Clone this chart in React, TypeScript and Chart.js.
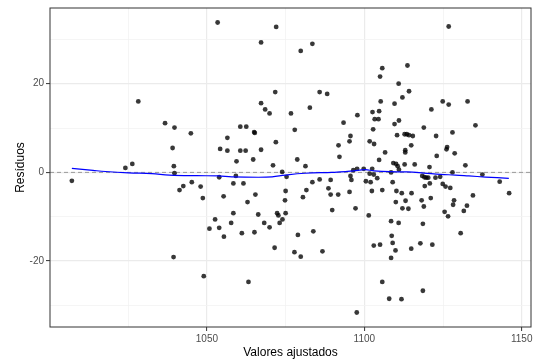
import React, { useEffect, useRef } from "react";
import { Chart, registerables } from "chart.js";
Chart.register(...registerables);

// Fitted values (x) and residuals (y)
const fitted = [
  1007.1, 1024.1, 1026.3, 1028.2, 1036.7, 1039.7, 1039.1, 1039.5, 1039.7, 1044.9,
  1041.3, 1042.5, 1045.2, 1048.0, 1048.7, 1050.8, 1039.4, 1049.0, 1053.4, 1072.0,
  1067.2, 1079.8, 1083.5, 1071.7, 1085.8, 1088.2, 1067.2, 1068.5, 1069.9, 1082.7,
  1076.7, 1093.4, 1060.6, 1062.5, 1065.0, 1065.2, 1056.5, 1077.9, 1071.9, 1054.2,
  1056.5, 1060.6, 1062.3, 1067.2, 1091.8, 1092.1, 1059.4, 1064.7, 1071.0, 1078.7,
  1081.3, 1073.9, 1053.9, 1059.2, 1075.3, 1058.4, 1061.6, 1055.3, 1065.4, 1062.9,
  1075.0, 1074.8, 1081.6, 1083.5, 1085.8, 1089.3, 1088.6, 1089.3, 1091.7, 1080.5,
  1089.8, 1052.6, 1058.4, 1066.3, 1072.3, 1072.7, 1075.0, 1074.0, 1073.1, 1053.9,
  1057.7, 1055.4, 1061.1, 1065.1, 1068.2, 1069.9, 1078.9, 1083.8, 1071.5, 1077.8,
  1079.8, 1086.7, 1063.2, 1105.7, 1113.7, 1105.0, 1110.9, 1114.2, 1112.1, 1105.2,
  1109.6, 1121.3, 1097.8, 1102.6, 1104.7, 1103.3, 1104.5, 1111.0, 1109.6, 1102.8,
  1118.9, 1095.6, 1095.3, 1101.7, 1103.1, 1110.4, 1112.8, 1113.5, 1114.2, 1115.4,
  1122.8, 1114.9, 1106.6, 1113.0, 1113.0, 1123.0, 1104.7, 1109.2, 1110.1, 1110.6,
  1112.8, 1116.0, 1120.7, 1096.5, 1097.7, 1099.8, 1102.5, 1101.7, 1103.0, 1104.1,
  1095.6, 1095.9, 1100.5, 1102.0, 1108.5, 1109.0, 1111.0, 1118.4, 1119.1, 1119.7,
  1120.3, 1122.6, 1124.1, 1120.8, 1119.2, 1095.3, 1102.4, 1105.7, 1110.2, 1111.9,
  1115.0, 1110.0, 1113.1, 1112.1, 1114.0, 1118.2, 1121.1, 1118.9, 1097.2, 1101.4,
  1108.5, 1110.9, 1118.6, 1108.7, 1109.0, 1103.0, 1105.0, 1109.9, 1114.9, 1117.8,
  1121.6, 1108.5, 1105.7, 1118.6, 1107.9, 1111.8, 1097.6, 1126.8, 1124.9, 1126.8,
  1132.8, 1135.3, 1128.0, 1126.3, 1126.1, 1128.7, 1132.1, 1128.0, 1137.5, 1124.9,
  1125.8, 1127.3, 1143.0, 1146.0, 1134.5, 1128.5, 1128.2, 1132.6, 1131.6, 1125.5,
  1126.6, 1130.6,
];
const residuals = [
  -1.9, 1.0, 1.9, 16.0, 11.1, 10.1, 5.5, 1.4, -0.2, 8.8,
  -4.0, -3.1, -2.2, -3.2, -5.8, -12.7, -19.1, -23.4, 33.8, 32.8,
  29.3, 27.4, 29.0, 18.1, 18.1, 17.7, 15.6, 14.2, 13.3, 14.6,
  13.3, 11.2, 10.3, 10.3, 9.1, 8.9, 7.8, 9.6, 6.8, 5.3,
  4.9, 4.9, 4.9, 5.1, 6.1, 3.5, 2.5, 2.9, 1.6, 2.9,
  1.4, 0.1, -1.1, -0.8, -1.0, -2.5, -2.5, -5.4, -5.0, -6.7,
  -4.2, -6.3, -4.0, -2.2, -1.6, -1.7, -3.6, -5.0, -5.0, -5.6,
  -8.5, -10.6, -9.2, -9.5, -9.2, -9.7, -9.2, -10.6, -11.4, -12.5,
  -11.4, -14.5, -13.7, -13.5, -11.4, -12.4, -14.1, -13.3, -17.0, -18.0,
  -19.0, -17.8, -24.7, 23.5, 24.1, 21.6, 20.0, 18.3, 16.9, 16.0,
  15.5, 14.2, 12.9, 13.6, 13.8, 12.0, 12.0, 11.7, 10.9, 9.7,
  10.1, 8.2, 7.0, 7.0, 6.4, 8.4, 8.6, 8.6, 8.4, 8.2,
  8.2, 6.1, 4.5, 5.0, 4.5, 3.7, 2.8, 2.1, 1.9, 1.4,
  1.8, 1.8, 1.2, 0.5, 0.8, 0.8, 0.8, -0.3, -0.5, -1.3,
  -0.8, -1.7, -2.0, -2.2, 0.0, -2.2, 0.6, -0.8, -1.1, -1.2,
  -1.2, -1.2, -1.0, -2.5, -3.1, -4.4, -4.2, -4.0, -4.2, -4.7,
  -4.7, -6.7, -6.4, -8.1, -8.2, -6.3, -5.8, -7.7, -8.1, -9.7,
  -11.0, -11.4, -11.6, -14.3, -15.9, -16.5, -16.3, -17.6, -17.2, -16.0,
  -16.3, -19.3, -24.7, -26.7, -28.5, -28.6, -31.6, 32.9, 16.0, 15.3,
  16.0, 10.6, 9.0, 5.7, 5.2, 4.3, 1.6, 0.0, -0.5, -2.6,
  -3.2, -3.5, -2.1, -4.7, -5.2, -6.3, -7.3, -7.5, -8.7, -8.9,
  -9.9, -13.7,
];

// Loess smooth curve
const smoothX = [1007.1, 1013.8, 1017.8, 1025.1, 1032.5, 1038.1, 1046.8, 1053.7, 1057.9, 1066.4,
  1070.7, 1074.9, 1081.2, 1089.7, 1094.0, 1096.6, 1100.3, 1103.0, 1108.3, 1113.6,
  1118.9, 1124.2, 1128.9, 1133.2, 1138.5, 1145.9];
const smoothY = [0.9, 0.45, 0.2, -0.1, -0.3, -0.6, -0.75, -0.8, -1.0, -1.1,
  -1.0, -0.6, -0.2, 0.0, 0.15, 0.35, 0.6, 0.35, 0.15, 0.1,
  -0.15, -0.45, -0.6, -0.8, -1.05, -1.35];

const xTicks = [1025, 1050, 1075, 1100, 1125, 1150];
const xLabels = [1050, 1100, 1150];
const yTicks = [-30, -20, -10, 0, 10, 20, 30];
const yLabels = [-20, 0, 20];
const refLine = 0;

const xTitle = "Valores ajustados";
const yTitle = "Resíduos";

const FONT = "'Liberation Sans', Arial, sans-serif";

function expand(arr: number[]) {
  const mn = Math.min(...arr);
  const mx = Math.max(...arr);
  const d = (mx - mn) * 0.05;
  return [mn - d, mx + d];
}

const panelPlugin = {
  id: "panelDecor",
  beforeDatasetsDraw(chart: any) {
    const { ctx, chartArea, scales } = chart;
    const y = scales.y.getPixelForValue(refLine);
    ctx.save();
    ctx.strokeStyle = "#999999";
    ctx.lineWidth = 1;
    ctx.setLineDash([4, 3]);
    ctx.beginPath();
    ctx.moveTo(chartArea.left, y);
    ctx.lineTo(chartArea.right, y);
    ctx.stroke();
    ctx.restore();
  },
  afterDraw(chart: any) {
    const { ctx, chartArea } = chart;
    ctx.save();
    ctx.strokeStyle = "#333333";
    ctx.lineWidth = 1;
    ctx.strokeRect(
      chartArea.left,
      chartArea.top,
      chartArea.right - chartArea.left,
      chartArea.bottom - chartArea.top
    );
    ctx.restore();
  },
};

export default function App() {
  const ref = useRef<HTMLCanvasElement | null>(null);
  useEffect(() => {
    if (!ref.current) return;
    const [xMin, xMax] = expand(fitted);
    const [yMin, yMax] = expand(residuals);
    const points = fitted.map((x, i) => ({ x, y: residuals[i] }));
    const smooth = smoothX.map((x, i) => ({ x, y: smoothY[i] }));

    const isMajorX = (v: number) => xLabels.includes(v);
    const isMajorY = (v: number) => yLabels.includes(v);

    const chart = new Chart(ref.current, {
      type: "scatter",
      data: {
        datasets: [
          {
            data: smooth,
            showLine: true,
            borderColor: "#0000FF",
            borderWidth: 1.2,
            pointRadius: 0,
            tension: 0.4,
            fill: false,
          } as any,
          {
            data: points,
            backgroundColor: "rgba(0,0,0,0.78)",
            borderWidth: 0,
            pointRadius: 2.4,
            pointHoverRadius: 2.4,
          },
        ],
      },
      options: {
        animation: false,
        responsive: false,
        events: [],
        layout: { padding: { left: 0, top: 7, right: 5, bottom: 0 } },
        plugins: {
          legend: { display: false },
          tooltip: { enabled: false },
        },
        scales: {
          x: {
            type: "linear",
            min: xMin,
            max: xMax,
            afterBuildTicks: (s: any) => {
              s.ticks = xTicks.map((v) => ({ value: v }));
            },
            afterFit: (s: any) => {
              s.height = 36;
            },
            border: { display: false },
            grid: {
              color: (c: any) => (c.tick && isMajorX(c.tick.value) ? "#EBEBEB" : "#F2F2F2"),
              lineWidth: (c: any) => (c.tick && isMajorX(c.tick.value) ? 1.2 : 0.8),
              tickColor: (c: any) => (c.tick && isMajorX(c.tick.value) ? "#333333" : "rgba(0,0,0,0)"),
              tickWidth: 1,
              tickLength: 4,
              drawTicks: true,
            },
            ticks: {
              autoSkip: false,
              maxRotation: 0,
              padding: 2,
              color: "#4D4D4D",
              font: { family: FONT, size: 10 },
              callback: (v: any) => (isMajorX(Number(v)) ? String(v) : ""),
            },
            title: {
              display: true,
              text: xTitle,
              color: "#000000",
              font: { family: FONT, size: 12 },
              padding: { top: 0, bottom: 3 },
            },
          },
          y: {
            type: "linear",
            min: yMin,
            max: yMax,
            afterBuildTicks: (s: any) => {
              s.ticks = yTicks.map((v) => ({ value: v }));
            },
            afterFit: (s: any) => {
              s.width = 50;
            },
            border: { display: false },
            grid: {
              color: (c: any) => (c.tick && isMajorY(c.tick.value) ? "#EBEBEB" : "#F2F2F2"),
              lineWidth: (c: any) => (c.tick && isMajorY(c.tick.value) ? 1.2 : 0.8),
              tickColor: (c: any) => (c.tick && isMajorY(c.tick.value) ? "#333333" : "rgba(0,0,0,0)"),
              tickWidth: 1,
              tickLength: 4,
              drawTicks: true,
            },
            ticks: {
              autoSkip: false,
              padding: 2,
              color: "#4D4D4D",
              font: { family: FONT, size: 10 },
              callback: (v: any) => (isMajorY(Number(v)) ? String(v) : ""),
            },
            title: {
              display: true,
              text: yTitle,
              color: "#000000",
              font: { family: FONT, size: 12 },
              padding: { top: 13, bottom: 0 },
            },
          },
        },
      },
      plugins: [panelPlugin],
    } as any);
    return () => chart.destroy();
  }, []);

  return (
    <div style={{ position: "absolute", left: 0, top: 0, width: 536, height: 363, background: "#fff" }}>
      <canvas ref={ref} width={536} height={363} style={{ display: "block" }} />
    </div>
  );
}
